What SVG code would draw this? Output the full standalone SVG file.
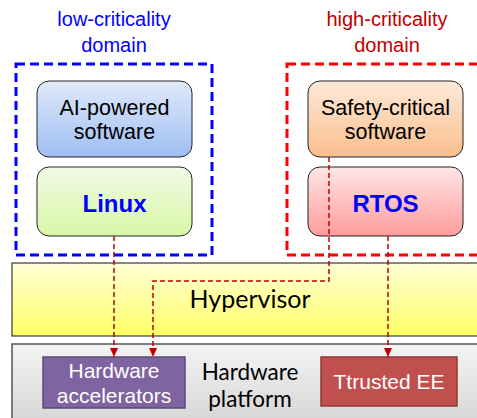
<svg xmlns="http://www.w3.org/2000/svg" width="477" height="418" viewBox="0 0 477 418">
  <defs>
    <linearGradient id="gBlue" x1="0" y1="0" x2="0" y2="1">
      <stop offset="0" stop-color="#E0EAFB"/>
      <stop offset="1" stop-color="#9EBEF3"/>
    </linearGradient>
    <linearGradient id="gGreen" x1="0" y1="0" x2="0" y2="1">
      <stop offset="0" stop-color="#F2FAE6"/>
      <stop offset="1" stop-color="#D8F7A6"/>
    </linearGradient>
    <linearGradient id="gOrange" x1="0" y1="0" x2="0" y2="1">
      <stop offset="0" stop-color="#FDE9D9"/>
      <stop offset="1" stop-color="#FABF8C"/>
    </linearGradient>
    <linearGradient id="gPink" x1="0" y1="0" x2="0" y2="1">
      <stop offset="0" stop-color="#FFE6E6"/>
      <stop offset="1" stop-color="#FF9C9C"/>
    </linearGradient>
    <linearGradient id="gYellow" x1="0" y1="0" x2="0" y2="1">
      <stop offset="0" stop-color="#FFFFD6"/>
      <stop offset="1" stop-color="#FFFF66"/>
    </linearGradient>
    <linearGradient id="gGray" x1="0" y1="0" x2="0" y2="1">
      <stop offset="0" stop-color="#F4F4F4"/>
      <stop offset="1" stop-color="#D2D2D2"/>
    </linearGradient>
    <marker id="head" viewBox="0 0 9 8" refX="9" refY="4" markerWidth="9" markerHeight="8" markerUnits="userSpaceOnUse" orient="auto">
      <path d="M0,0 L9,4 L0,8 Z" fill="#C00000"/>
    </marker>
  </defs>
  <style>
    .sans { font-family: "Liberation Sans", Arial, sans-serif; }
    .cal { font-family: Lato, "Open Sans", sans-serif; fill: #000; }
    .box { stroke: #222; stroke-width: 1; }
    .domain { fill: none; stroke-width: 3; stroke-dasharray: 9 5; }
    .link { fill: none; stroke: #C00000; stroke-width: 1.5; stroke-dasharray: 5 3; marker-end: url(#head); }
  </style>

  <!-- platform layers -->
  <g id="hardware-platform">
    <rect x="12" y="344" width="480" height="90" fill="url(#gGray)" stroke="#555" stroke-width="1.5"/>
    <text class="cal" x="250" y="380" font-size="22.5" text-anchor="middle">Hardware</text>
    <text class="cal" x="250" y="407" font-size="22.5" text-anchor="middle">platform</text>
  </g>
  <g id="hypervisor">
    <rect x="12" y="263" width="480" height="73" fill="url(#gYellow)" stroke="#111" stroke-width="1"/>
    <text class="cal" x="250" y="308" font-size="25" text-anchor="middle">Hypervisor</text>
  </g>

  <!-- domains -->
  <g id="low-domain">
    <rect class="domain" x="16" y="64" width="196" height="191" stroke="#0000FF"/>
    <text class="sans" x="114" y="26" font-size="20" fill="#0000FF" text-anchor="middle">low-criticality</text>
    <text class="sans" x="114" y="52" font-size="20" fill="#0000FF" text-anchor="middle">domain</text>
  </g>
  <g id="high-domain">
    <rect class="domain" x="287" y="64" width="210" height="191" stroke="#FF0000"/>
    <text class="sans" x="387" y="26" font-size="20" fill="#C00000" text-anchor="middle">high-criticality</text>
    <text class="sans" x="387" y="52" font-size="20" fill="#C00000" text-anchor="middle">domain</text>
  </g>

  <!-- software stacks -->
  <g id="ai-software">
    <rect class="box" x="37" y="81" width="155" height="76" rx="12" fill="url(#gBlue)"/>
    <text class="sans" x="114.5" y="115" font-size="21.5" text-anchor="middle">AI-powered</text>
    <text class="sans" x="114.5" y="139" font-size="21.5" text-anchor="middle">software</text>
  </g>
  <g id="linux">
    <rect class="box" x="37" y="167" width="155" height="69" rx="12" fill="url(#gGreen)"/>
    <text class="sans" x="114.5" y="212" font-size="24" font-weight="bold" fill="#0000FF" text-anchor="middle">Linux</text>
  </g>
  <g id="safety-software">
    <rect class="box" x="308" y="81" width="155" height="76" rx="12" fill="url(#gOrange)"/>
    <text class="sans" x="385.5" y="115" font-size="21.5" text-anchor="middle">Safety-critical</text>
    <text class="sans" x="385.5" y="139" font-size="21.5" text-anchor="middle">software</text>
  </g>
  <g id="rtos">
    <rect class="box" x="308" y="167" width="155" height="69" rx="12" fill="url(#gPink)"/>
    <text class="sans" x="385.5" y="212" font-size="24" font-weight="bold" fill="#0000FF" text-anchor="middle">RTOS</text>
  </g>

  <!-- hardware blocks -->
  <g id="hw-accelerators">
    <rect x="43" y="357" width="142" height="51" fill="#8064A2" stroke="#5F497A" stroke-width="1.5"/>
    <text class="sans" x="114" y="378" font-size="21" fill="#fff" text-anchor="middle">Hardware</text>
    <text class="sans" x="114" y="403" font-size="21" fill="#fff" text-anchor="middle">accelerators</text>
  </g>
  <g id="trusted-ee">
    <rect x="321" y="357" width="136" height="49" fill="#C0504D" stroke="#8C3836" stroke-width="1.5"/>
    <text class="sans" x="389" y="389" font-size="21" fill="#fff" text-anchor="middle">Ttrusted EE</text>
  </g>

  <!-- access paths -->
  <g id="connectors">
    <path class="link" d="M114,236 V357"/>
    <path class="link" d="M329,157 V281 H153 V357"/>
    <path class="link" d="M388,236 V357"/>
  </g>
</svg>
